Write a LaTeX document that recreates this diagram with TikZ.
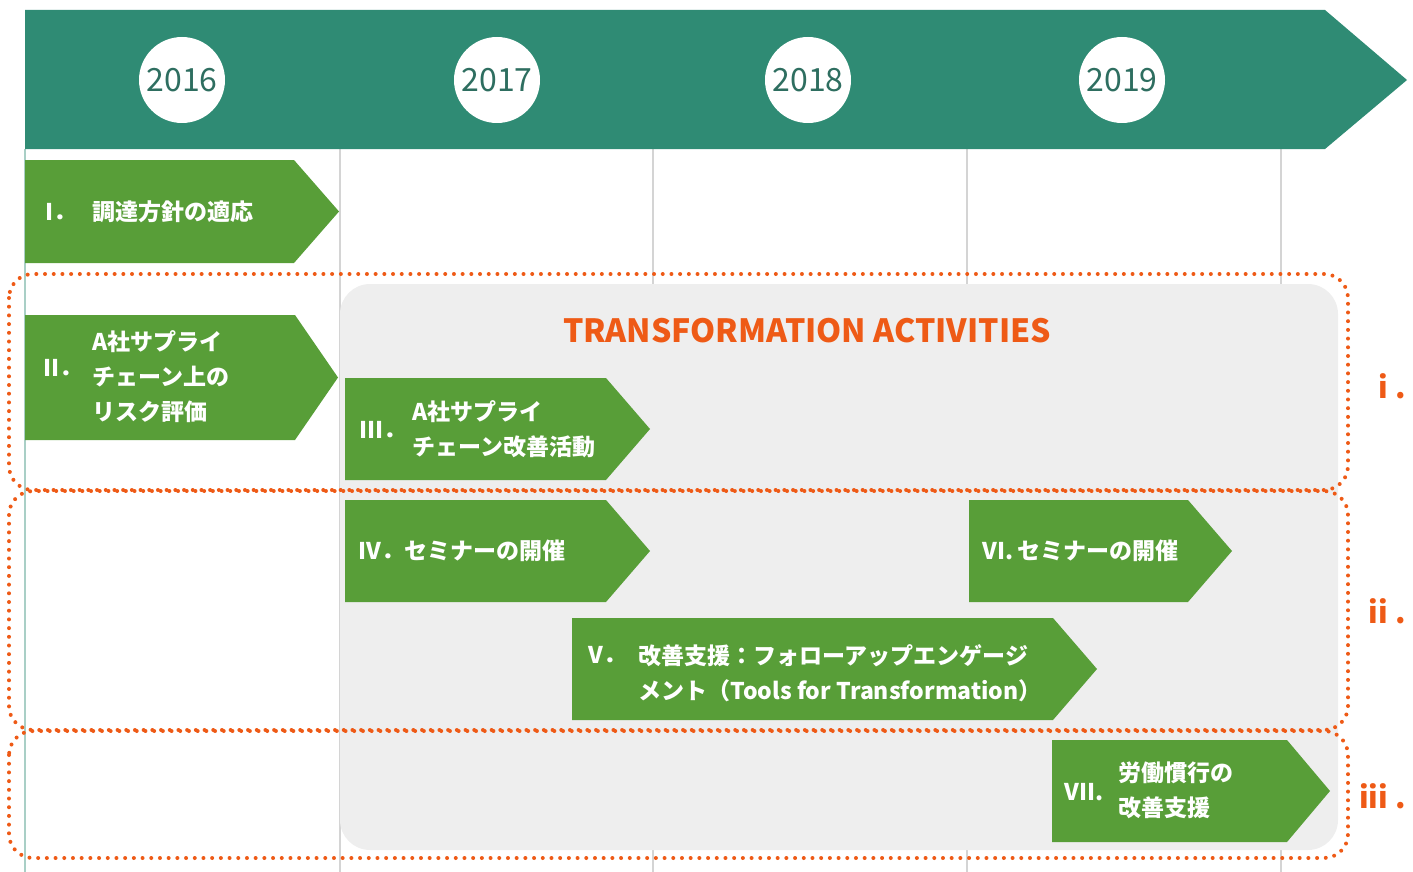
\documentclass[tikz,border=0pt]{standalone}
\usepackage{fontspec}
\newfontfamily\jp{Noto Sans CJK JP}
\definecolor{hdr}{HTML}{2F8B74}
\definecolor{yeartxt}{HTML}{2E6E60}
\definecolor{grn}{HTML}{589E38}
\definecolor{org}{HTML}{EE5A16}
\definecolor{grayfill}{HTML}{EEEEEE}
\definecolor{vline}{HTML}{D4D4D4}
\definecolor{tline}{HTML}{A9CFC6}
\tikzset{
  garrow/.style={fill=grn},
  jtxt/.style={font=\jp\bfseries\fontsize{11.5}{17.5}\selectfont, text=white, anchor=west, align=left, inner sep=0pt},
  yr/.style={circle, fill=white, minimum size=43pt, inner sep=0pt, text=yeartxt, font=\jp\fontsize{16}{16}\selectfont},
  dotbox/.style={draw=org, line width=2pt, dash pattern=on 0pt off 4.35pt, line cap=round, rounded corners=12pt},
  lbl/.style={text=org, font=\jp\bfseries\fontsize{15}{15}\selectfont, anchor=east, inner sep=0pt}
}
\newcommand{\chev}[5]{\fill[garrow] (#1,#2) -- (#3,#2) -- (#5,{(#2+#4)/2}) -- (#3,#4) -- (#1,#4) -- cycle;}
\begin{document}
\begin{tikzpicture}[x=0.5pt,y=-0.5pt]
\useasboundingbox (0,0) rectangle (1413,872);
% vertical grid lines
\draw[tline, line width=0.8pt] (25,149) -- (25,872);
\foreach \xx in {340,653,967,1281} \draw[vline, line width=0.8pt] (\xx,149) -- (\xx,872);
% header band
\fill[hdr] (25,10) -- (1325,10) -- (1407,80) -- (1325,149) -- (25,149) -- cycle;
\node[yr] (y16) at (182,80) {2016};
\node[yr] (y17) at (497,80) {2017};
\node[yr] (y18) at (808,80) {2018};
\node[yr] (y19) at (1122,80) {2019};
% gray area
\fill[grayfill, rounded corners=15pt] (340,284) rectangle (1338,850);
\node[text=org, font=\jp\bfseries\fontsize{16}{16}\selectfont, inner sep=0pt] (title) at (807,331) {TRANSFORMATION ACTIVITIES};
% arrows
\chev{25}{160}{294}{263}{339}
\node[jtxt] (n1a) at (45,212) {I．};
\node[jtxt] (n1) at (92,212) {調達方針の適応};
\chev{25}{315}{295}{440}{338}
\node[jtxt] (n2a) at (43,368) {II．};
\node[jtxt] (n2) at (92,377) {A社サプライ\\チェーン上の\\リスク評価};
\chev{345}{378}{606}{480}{650}
\node[jtxt] (n3a) at (359,430) {III．};
\node[jtxt] (n3) at (412,429) {A社サプライ\\チェーン改善活動};
\chev{345}{500}{606}{602}{650}
\node[jtxt] (n4) at (358,551) {IV．セミナーの開催};
\chev{969}{500}{1188}{602}{1232}
\node[jtxt] (n6) at (982,551) {VI.\,セミナーの開催};
\chev{572}{618}{1053}{720}{1097}
\node[jtxt] (n5a) at (588,655) {V．};
\node[jtxt] (n5) at (638,673) {改善支援：フォローアップエンゲージ\\メント（Tools for Transformation）};
\chev{1052}{740}{1287}{842}{1330}
\node[jtxt] (n7a) at (1064,792) {VII.};
\node[jtxt] (n7) at (1118,790) {労働慣行の\\改善支援};
% dotted boxes
\draw[dotbox] (9,274) rectangle (1348,490);
\draw[dotbox] (9,491) rectangle (1348,730);
\draw[dotbox] (9,731) rectangle (1348,858);
\node[lbl] (li) at (1406,386) {i .};
\node[lbl] (lii) at (1406,611) {ii .};
\node[lbl] (liii) at (1406,796) {iii .};
\end{tikzpicture}
\end{document}
